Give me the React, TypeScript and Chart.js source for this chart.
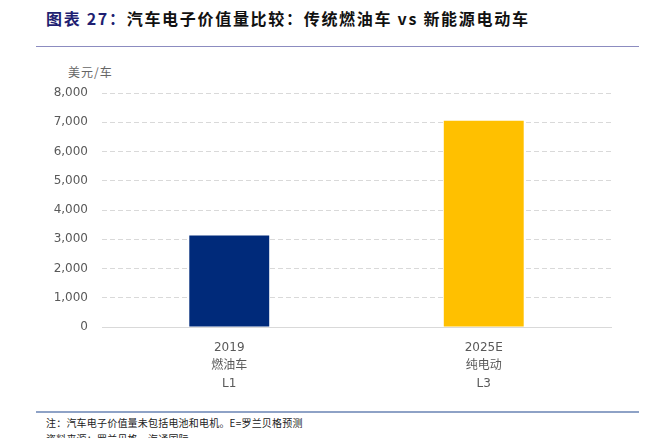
import React, { useEffect, useRef } from "react";
import { Chart, registerables } from "chart.js";

Chart.register(...registerables);

const categories: string[][] = [
  ["2019", "燃油车", "L1"],
  ["2025E", "纯电动", "L3"],
];
const values: number[] = [3130, 7050];
const barColors: string[] = ["#002A7A", "#FFC000"];
const yTicks: number[] = [0, 1000, 2000, 3000, 4000, 5000, 6000, 7000, 8000];

const titleLead = "图表 27：";
const titleRest = "汽车电子价值量比较：传统燃油车 vs 新能源电动车";
const unitLabel = "美元/车";
const note = "注：汽车电子价值量未包括电池和电机。E=罗兰贝格预测";
const source = "资料来源：罗兰贝格，海通国际";

export default function App() {
  const ref = useRef<HTMLCanvasElement | null>(null);

  useEffect(() => {
    document.body.style.margin = "0";
    if (!ref.current) return;
    const chart = new Chart(ref.current, {
      type: "bar",
      data: {
        labels: categories,
        datasets: [
          {
            data: values,
            backgroundColor: barColors,
            borderWidth: 0,
            barPercentage: 0.314,
            categoryPercentage: 1,
          },
        ],
      },
      options: {
        animation: false,
        responsive: false,
        maintainAspectRatio: false,
        layout: { padding: { top: 33, right: 48, left: 0, bottom: 0 } },
        plugins: { legend: { display: false }, tooltip: { enabled: false } },
        scales: {
          x: {
            grid: { display: false },
            border: { display: true, color: "#D9D9D9", width: 1 },
            ticks: {
              color: "#595959",
              padding: 4,
              font: { family: "'DejaVu Sans', 'Noto Sans CJK SC'", size: 12, lineHeight: 1.5 },
              maxRotation: 0,
            },
            afterFit: (s: any) => {
              s.height = 78;
            },
          },
          y: {
            min: 0,
            max: 8000,
            afterBuildTicks: (s: any) => {
              s.ticks = yTicks.map((v) => ({ value: v }));
            },
            grid: {
              drawTicks: false,
              color: (ctx: any) => (ctx.tick && ctx.tick.value === 0 ? "rgba(0,0,0,0)" : "#D9D9D9"),
              lineWidth: 1,
            },
            border: { display: false, dash: [5, 3] },
            ticks: {
              color: "#595959",
              padding: 14,
              font: { family: "'DejaVu Sans', 'Noto Sans CJK SC'", size: 12 },
              callback: (v: any) => Number(v).toLocaleString("en-US"),
            },
            afterFit: (s: any) => {
              s.width = 102;
            },
          },
        },
      },
    });
    return () => chart.destroy();
  }, []);

  return (
    <div
      style={{
        position: "absolute",
        left: 0,
        top: 0,
        width: 659,
        height: 438,
        overflow: "hidden",
        background: "#fff",
        fontFamily: "'Noto Sans CJK SC', sans-serif",
      }}
    >
      <div
        style={{
          position: "absolute",
          left: 46,
          top: 7,
          fontSize: 16,
          fontWeight: 700,
          letterSpacing: 1.7,
          whiteSpace: "nowrap",
          lineHeight: "22px",
        }}
      >
        <span style={{ color: "#1F1F72" }}>{titleLead}</span>
        <span style={{ color: "#111" }}>{titleRest}</span>
      </div>
      <div style={{ position: "absolute", left: 36, top: 46, width: 603, height: 1, background: "#8C8CC0" }} />
      <div
        style={{
          position: "absolute",
          left: 68,
          top: 63,
          fontSize: 12,
          letterSpacing: 1,
          color: "#666",
          whiteSpace: "nowrap",
          lineHeight: "18px",
        }}
      >
        {unitLabel}
      </div>
      <canvas ref={ref} width={659} height={345} style={{ position: "absolute", left: 0, top: 60, width: 659, height: 345 }} />
      <div style={{ position: "absolute", left: 36, top: 411, width: 603, height: 2, background: "#8EA2C6" }} />
      <div
        style={{
          position: "absolute",
          left: 46,
          top: 415,
          fontSize: 10,
          letterSpacing: 0.2,
          color: "#222",
          whiteSpace: "nowrap",
          lineHeight: "15px",
        }}
      >
        {note}
      </div>
      <div
        style={{
          position: "absolute",
          left: 46,
          top: 431,
          fontSize: 10,
          letterSpacing: 0.2,
          color: "#222",
          whiteSpace: "nowrap",
          lineHeight: "15px",
        }}
      >
        {source}
      </div>
    </div>
  );
}
